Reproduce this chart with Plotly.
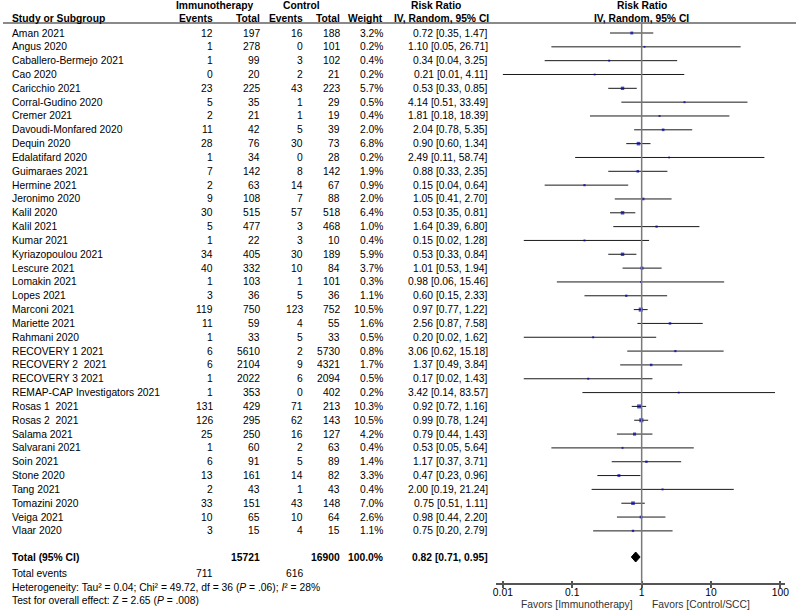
import plotly.graph_objects as go
import math

# ---------------- data ----------------
studies = ["Aman 2021", "Angus 2020", "Caballero-Bermejo 2021", "Cao 2020", "Caricchio 2021",
           "Corral-Gudino 2020", "Cremer 2021", "Davoudi-Monfared 2020", "Dequin 2020",
           "Edalatifard 2020", "Guimaraes 2021", "Hermine 2021", "Jeronimo 2020", "Kalil 2020",
           "Kalil 2021", "Kumar 2021", "Kyriazopoulou 2021", "Lescure 2021", "Lomakin 2021",
           "Lopes 2021", "Marconi 2021", "Mariette 2021", "Rahmani 2020", "RECOVERY 1 2021",
           "RECOVERY 2  2021", "RECOVERY 3 2021", "REMAP-CAP Investigators 2021", "Rosas 1  2021",
           "Rosas 2  2021", "Salama 2021", "Salvarani 2021", "Soin 2021", "Stone 2020",
           "Tang 2021", "Tomazini 2020", "Veiga 2021", "Vlaar 2020"]
ev_immuno = [12, 1, 1, 0, 23, 5, 2, 11, 28, 1, 7, 2, 9, 30, 5, 1, 34, 40, 1, 3, 119, 11, 1, 6, 6, 1, 1,
             131, 126, 25, 1, 6, 13, 2, 33, 10, 3]
tot_immuno = [197, 278, 99, 20, 225, 35, 21, 42, 76, 34, 142, 63, 108, 515, 477, 22, 405, 332, 103, 36,
              750, 59, 33, 5610, 2104, 2022, 353, 429, 295, 250, 60, 91, 161, 43, 151, 65, 15]
ev_control = [16, 0, 3, 2, 43, 1, 1, 5, 30, 0, 8, 14, 7, 57, 3, 3, 30, 10, 1, 5, 123, 4, 5, 2, 9, 6, 0,
              71, 62, 16, 2, 5, 14, 1, 43, 10, 4]
tot_control = [188, 101, 102, 21, 223, 29, 19, 39, 73, 28, 142, 67, 88, 518, 468, 10, 189, 84, 101, 36,
               752, 55, 33, 5730, 4321, 2094, 402, 213, 143, 127, 63, 89, 82, 43, 148, 64, 15]
weights = [3.2, 0.2, 0.4, 0.2, 5.7, 0.5, 0.4, 2.0, 6.8, 0.2, 1.9, 0.9, 2.0, 6.4, 1.0, 0.4, 5.9, 3.7, 0.3,
           1.1, 10.5, 1.6, 0.5, 0.8, 1.7, 0.5, 0.2, 10.3, 10.5, 4.2, 0.4, 1.4, 3.3, 0.4, 7.0, 2.6, 1.1]
rr = [0.72, 1.10, 0.34, 0.21, 0.53, 4.14, 1.81, 2.04, 0.90, 2.49, 0.88, 0.15, 1.05, 0.53, 1.64, 0.15,
      0.53, 1.01, 0.98, 0.60, 0.97, 2.56, 0.20, 3.06, 1.37, 0.17, 3.42, 0.92, 0.99, 0.79, 0.53, 1.17,
      0.47, 2.00, 0.75, 0.98, 0.75]
ci_low = [0.35, 0.05, 0.04, 0.01, 0.33, 0.51, 0.18, 0.78, 0.60, 0.11, 0.33, 0.04, 0.41, 0.35, 0.39, 0.02,
          0.33, 0.53, 0.06, 0.15, 0.77, 0.87, 0.02, 0.62, 0.49, 0.02, 0.14, 0.72, 0.78, 0.44, 0.05, 0.37,
          0.23, 0.19, 0.51, 0.44, 0.20]
ci_high = [1.47, 26.71, 3.25, 4.11, 0.85, 33.49, 18.39, 5.35, 1.34, 58.74, 2.35, 0.64, 2.70, 0.81, 6.80,
           1.28, 0.84, 1.94, 15.46, 2.33, 1.22, 7.58, 1.62, 15.18, 3.84, 1.43, 83.57, 1.16, 1.24, 1.43,
           5.64, 3.71, 0.96, 21.24, 1.11, 2.20, 2.79]

total_immuno = 15721
total_control = 16900
total_weight = "100.0%"
events_immuno_total = 711
events_control_total = 616
pooled_rr = 0.82
pooled_low = 0.71
pooled_high = 0.95
heterogeneity = "Heterogeneity: Tau² = 0.04; Chi² = 49.72, df = 36 (<i>P</i> = .06); <i>I</i>² = 28%"
overall_test = "Test for overall effect: Z = 2.65 (<i>P</i> = .008)"
tick_values = [0.01, 0.1, 1, 10, 100]
tick_labels = ["0.01", "0.1", "1", "10", "100"]

# ---------------- layout helpers ----------------
W, H = 800, 612
FONT = "Liberation Sans, Arial, sans-serif"
FS = 10.3
row0, drow = 33.0, 13.83
rows_y = [row0 + i * drow for i in range(len(studies))]
y_total, y_events, y_het, y_test = 557, 573, 587, 600
y_axis = 584

annotations = []


def txt(xpx, y, s, anchor="right", bold=False, size=FS, color="#000"):
    if bold:
        s = "<b>" + s + "</b>"
    annotations.append(dict(x=xpx / W, xref="paper", y=y, yref="y", text=s, showarrow=False,
                            xanchor=anchor, yanchor="middle", borderpad=0,
                            font=dict(family=FONT, size=size, color=color)))


# headers
txt(214, 5, "Immunotherapy", "center", True)
txt(301, 5, "Control", "center", True)
txt(437, 5, "Risk Ratio", "center", True)
txt(644.5, 5, "Risk Ratio", "center", True)
txt(8, 18, "Study or Subgroup", "left", True)
txt(213, 18, "Events", "right", True)
txt(260, 18, "Total", "right", True)
txt(304, 18, "Events", "right", True)
txt(341, 18, "Total", "right", True)
txt(384, 18, "Weight", "right", True)
txt(491, 18, "IV, Random, 95% CI", "right", True)
txt(644.5, 18, "IV, Random, 95% CI", "center", True)

for i, name in enumerate(studies):
    y = rows_y[i]
    txt(8, y, name, "left")
    txt(213, y, str(ev_immuno[i]))
    txt(260, y, str(tot_immuno[i]))
    txt(304, y, str(ev_control[i]))
    txt(341, y, str(tot_control[i]))
    txt(384, y, f"{weights[i]:.1f}%")
    txt(490, y, f"{rr[i]:.2f} [{ci_low[i]:.2f}, {ci_high[i]:.2f}]")

txt(8, y_total, "Total (95% CI)", "left", True)
txt(260, y_total, str(total_immuno), "right", True)
txt(341, y_total, str(total_control), "right", True)
txt(384, y_total, total_weight, "right", True)
txt(490, y_total, f"{pooled_rr:.2f} [{pooled_low:.2f}, {pooled_high:.2f}]", "right", True)
txt(8, y_events, "Total events", "left")
txt(213, y_events, str(events_immuno_total))
txt(304, y_events, str(events_control_total))
txt(8, y_het, heterogeneity, "left")
txt(8, y_test, overall_test, "left")
txt(637, 604, "Favors [Immunotherapy]", "right", color="#333")
txt(654, 604, "Favors [Control/SCC]", "left", color="#333")

# ---------------- traces ----------------
fig = go.Figure()

# CI lines
xs, ys = [], []
for i in range(len(studies)):
    xs += [ci_low[i], ci_high[i], None]
    ys += [rows_y[i], rows_y[i], None]
fig.add_trace(go.Scatter(x=xs, y=ys, mode="lines", line=dict(color="#1a1a1a", width=1),
                         hoverinfo="skip", showlegend=False))

# point estimates (square size reflects weight)
sizes = [1.5 + 0.8 * math.sqrt(w) for w in weights]
fig.add_trace(go.Scatter(x=rr, y=rows_y, mode="markers",
                         marker=dict(symbol="square", size=sizes, color="#0000a0", line=dict(width=0)),
                         showlegend=False))

# pooled diamond
dh = 5.0
fig.add_trace(go.Scatter(x=[pooled_low, pooled_rr, pooled_high, pooled_rr, pooled_low],
                         y=[y_total, y_total - dh, y_total, y_total + dh, y_total],
                         mode="lines", fill="toself", fillcolor="#000", line=dict(color="#000", width=1),
                         showlegend=False))

# ---------------- axes / shapes ----------------
left_px, right_px, one_px, decade = 497.7, 789.3, 644.3, 70.0
xr = [(left_px - one_px) / decade, (right_px - one_px) / decade]
xdom = [left_px / W, right_px / W]
xpos = (H - y_axis) / H

shapes = [
    dict(type="line", xref="paper", yref="y", x0=0, x1=1, y0=23, y1=23,
         line=dict(color="#8a8a8a", width=2)),
    dict(type="line", xref="x", yref="y", x0=1, x1=1, y0=23, y1=y_axis,
         line=dict(color="#7a7a7a", width=1.5)),
]

fig.update_layout(
    width=W, height=H, margin=dict(l=0, r=0, t=0, b=0),
    paper_bgcolor="white", plot_bgcolor="white",
    font=dict(family=FONT, size=FS, color="#000"),
    xaxis=dict(type="log", range=xr, domain=xdom,
               anchor="free", position=xpos,
               showline=True, linecolor="#555", linewidth=1.5,
               ticks="outside", ticklen=3, tickcolor="#555", tickwidth=1.5,
               ticklabelstandoff=-4,
               tickvals=tick_values, ticktext=tick_labels, showgrid=False, zeroline=False,
               tickfont=dict(family=FONT, size=FS, color="#000")),
    xaxis2=dict(type="log", range=xr, domain=xdom, overlaying="x",
                anchor="free", position=xpos,
                showline=False, ticks="inside", ticklen=3, tickcolor="#555", tickwidth=1.5,
                tickvals=tick_values, showticklabels=False, showgrid=False, zeroline=False),
    yaxis=dict(range=[H, 0], domain=[0, 1], visible=False, showgrid=False, zeroline=False),
    annotations=annotations, shapes=shapes, showlegend=False,
)
# an empty trace so the overlay axis (inner tick half) is drawn
fig.add_trace(go.Scatter(x=[1], y=[None], xaxis="x2", mode="markers", showlegend=False,
                         hoverinfo="skip"))

fig.write_html("out.html", config={"displayModeBar": False},
               post_script="document.body.style.margin='0';")
